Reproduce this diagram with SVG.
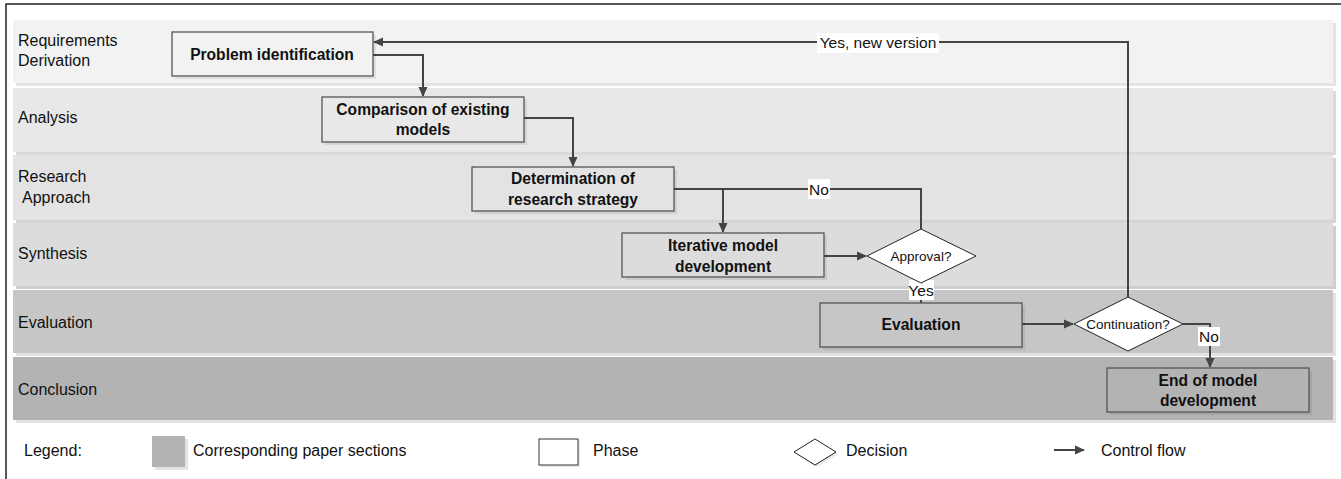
<svg xmlns="http://www.w3.org/2000/svg" width="1341" height="479" viewBox="0 0 1341 479">
<style>
text{font-family:"Liberation Sans",Arial,sans-serif;fill:#111}
.lane-label{font-size:16px}
.box{stroke:#555;stroke-width:1.3}
.shadow{fill:#000;opacity:0.08}
.bt{font-size:15.6px;font-weight:bold;text-anchor:middle}
.dt{font-size:13.5px;text-anchor:middle}
.lbl{font-size:15.5px;text-anchor:middle}
.lblbg{fill:#fff}
.conn{fill:none;stroke:#444;stroke-width:2}
.dia{fill:#fff;stroke:#222;stroke-width:1}
.leg{font-size:16px}
</style>
<defs>
<marker id="arr" markerWidth="10" markerHeight="10" refX="9" refY="5" orient="auto" markerUnits="userSpaceOnUse">
<path d="M0,0.5 L10,5 L0,9.5 Z" fill="#444"/>
</marker>
</defs>
<rect x="0" y="0" width="1341" height="479" fill="#fff"/>
<rect x="6" y="4" width="1345" height="490" fill="none" stroke="#222" stroke-width="1.5"/>

<g id="lanes">
<g id="lane-requirements">
<rect x="16" y="23" width="1320" height="63" fill="#e4e4e4"/>
<rect x="13" y="20" width="1320" height="63" fill="#f2f2f2"/>
<text class="lane-label" x="18" y="46">Requirements</text>
<text class="lane-label" x="18" y="66">Derivation</text>
</g>
<g id="lane-analysis">
<rect x="16" y="91" width="1320" height="64" fill="#dadada"/>
<rect x="13" y="88" width="1320" height="64" fill="#e8e8e8"/>
<text class="lane-label" x="18" y="123">Analysis</text>
</g>
<g id="lane-research">
<rect x="16" y="158" width="1320" height="65" fill="#d4d4d4"/>
<rect x="13" y="155" width="1320" height="65" fill="#e3e3e3"/>
<text class="lane-label" x="18" y="182">Research</text>
<text class="lane-label" x="22" y="203">Approach</text>
</g>
<g id="lane-synthesis">
<rect x="16" y="226" width="1320" height="63" fill="#cecece"/>
<rect x="13" y="223" width="1320" height="63" fill="#dcdcdc"/>
<text class="lane-label" x="18" y="259">Synthesis</text>
</g>
<g id="lane-evaluation">
<rect x="16" y="293" width="1320" height="63" fill="#e2e2e2"/>
<rect x="13" y="290" width="1320" height="63" fill="#c6c6c6"/>
<text class="lane-label" x="18" y="328">Evaluation</text>
</g>
<g id="lane-conclusion">
<rect x="16" y="360" width="1320" height="63" fill="#e2e2e2"/>
<rect x="13" y="357" width="1320" height="63" fill="#b3b3b3"/>
<text class="lane-label" x="18" y="395">Conclusion</text>
</g>
</g>

<g id="connectors">
<path class="conn" d="M373,55 H423 V96" marker-end="url(#arr)"/>
<path class="conn" d="M524,118 H573 V166" marker-end="url(#arr)"/>
<path class="conn" d="M674,189 H723 V232" marker-end="url(#arr)"/>
<path class="conn" d="M723,189 H921 V229"/>
<path class="conn" d="M824,256 H866" marker-end="url(#arr)"/>
<path class="conn" d="M921,283 V303"/>
<path class="conn" d="M1022,324 H1073" marker-end="url(#arr)"/>
<path class="conn" d="M1128,297 V42 H374" marker-end="url(#arr)"/>
<path class="conn" d="M1183,324 H1210 V367" marker-end="url(#arr)"/>
<rect class="lblbg" x="808" y="179" width="22" height="20"/>
<text class="lbl" x="819" y="195">No</text>
<rect class="lblbg" x="909" y="280" width="25" height="20"/>
<text class="lbl" x="921" y="296">Yes</text>
<rect class="lblbg" x="817" y="33" width="122" height="20"/>
<text class="lbl" x="878" y="48">Yes, new version</text>
<rect class="lblbg" x="1198" y="327" width="22" height="19"/>
<text class="lbl" x="1209" y="342">No</text>
</g>

<g id="node-problem">
<rect class="shadow" x="175" y="35" width="201" height="44"/>
<rect class="box" x="172" y="32" width="201" height="44" fill="#f2f2f2"/>
<text class="bt" x="272" y="60">Problem identification</text>
</g>
<g id="node-comparison">
<rect class="shadow" x="325" y="100" width="202" height="45"/>
<rect class="box" x="322" y="97" width="202" height="45" fill="#e8e8e8"/>
<text class="bt" x="423" y="115">Comparison of existing</text>
<text class="bt" x="423" y="135">models</text>
</g>
<g id="node-determination">
<rect class="shadow" x="475" y="170" width="202" height="44"/>
<rect class="box" x="472" y="167" width="202" height="44" fill="#e3e3e3"/>
<text class="bt" x="573" y="184">Determination of</text>
<text class="bt" x="573" y="205">research strategy</text>
</g>
<g id="node-iterative">
<rect class="shadow" x="625" y="236" width="202" height="44"/>
<rect class="box" x="622" y="233" width="202" height="44" fill="#dcdcdc"/>
<text class="bt" x="723" y="251">Iterative model</text>
<text class="bt" x="723" y="272">development</text>
</g>
<g id="node-approval">
<polygon class="dia" points="867,256 921,229 976,256 921,283"/>
<text class="dt" x="921" y="261">Approval?</text>
</g>
<g id="node-evaluation">
<rect class="shadow" x="823" y="306" width="202" height="44"/>
<rect class="box" x="820" y="303" width="202" height="44" fill="#c6c6c6"/>
<text class="bt" x="921" y="330">Evaluation</text>
</g>
<g id="node-continuation">
<polygon class="dia" points="1074,324 1128,297 1183,324 1128,351"/>
<text class="dt" x="1128" y="329">Continuation?</text>
</g>
<g id="node-end">
<rect class="shadow" x="1110" y="371" width="202" height="44"/>
<rect class="box" x="1107" y="368" width="202" height="44" fill="#b3b3b3"/>
<text class="bt" x="1208" y="386">End of model</text>
<text class="bt" x="1208" y="406">development</text>
</g>

<g id="legend">
<text class="leg" x="24" y="456">Legend:</text>
<rect x="155" y="439" width="33" height="31" fill="#e2e2e2"/>
<rect x="152" y="436" width="33" height="31" fill="#b3b3b3"/>
<text class="leg" x="193" y="456">Corresponding paper sections</text>
<rect x="541" y="441" width="39" height="26" fill="#e8e8e8"/>
<rect x="539" y="439" width="39" height="26" fill="#fff" stroke="#333" stroke-width="1"/>
<text class="leg" x="593" y="456">Phase</text>
<polygon points="796,454 817,441 838,454 817,467" fill="#e8e8e8"/>
<polygon points="794,452 815,439 836,452 815,465" fill="#fff" stroke="#222" stroke-width="1"/>
<text class="leg" x="846" y="456">Decision</text>
<path class="conn" d="M1054,450 H1084" marker-end="url(#arr)"/>
<text class="leg" x="1101" y="456">Control flow</text>
</g>
</svg>
